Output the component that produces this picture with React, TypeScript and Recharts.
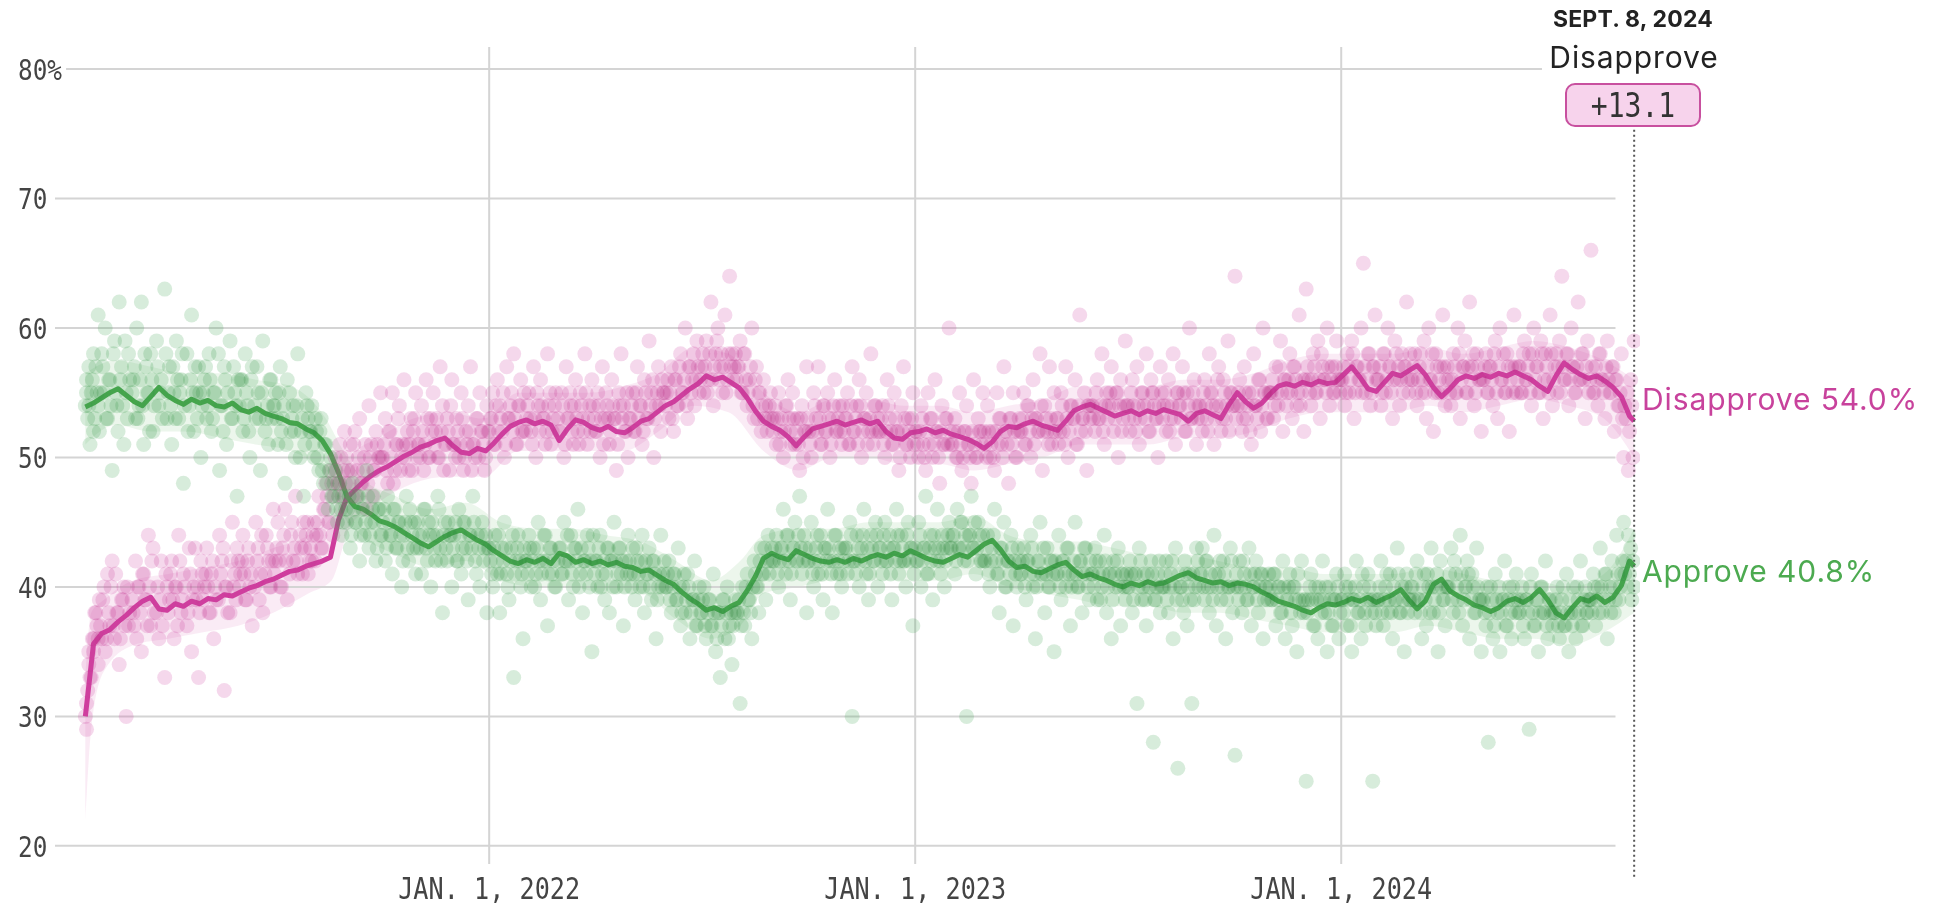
import { ComposedChart, XAxis, YAxis, Line, Area, Scatter, ReferenceLine } from 'recharts';

// days are counted from Jan 1, 2021
const trendStartDay = 19;
const trendStepDays = 7;

const approveTrend = [
  53.9, 54.2, 54.6, 55.0, 55.3, 54.8, 54.3, 54.0, 54.7, 55.4,
  54.8, 54.4, 54.1, 54.5, 54.2, 54.4, 54.0, 53.9, 54.2, 53.7,
  53.5, 53.8, 53.4, 53.2, 53.0, 52.7, 52.6, 52.2, 51.9, 51.3,
  50.3, 48.8, 47.0, 46.2, 46.0, 45.6, 45.1, 44.9, 44.6, 44.2,
  43.8, 43.4, 43.1, 43.5, 43.9, 44.2, 44.4, 44.0, 43.6, 43.3,
  42.8, 42.4, 42.0, 41.8, 42.1, 41.9, 42.2, 41.8, 42.6, 42.4,
  41.9, 42.1, 41.8, 42.0, 41.7, 41.9, 41.6, 41.5, 41.2, 41.3,
  40.9, 40.5, 40.2, 39.6, 39.1, 38.7, 38.2, 38.4, 38.1, 38.5,
  38.8, 39.7, 40.8, 42.2, 42.6, 42.3, 42.1, 42.8, 42.5, 42.2,
  42.0, 41.9, 42.1, 41.9, 42.2, 42.0, 42.3, 42.5, 42.3, 42.6,
  42.4, 42.8, 42.5, 42.2, 42.0, 41.9, 42.2, 42.5, 42.3, 42.8,
  43.3, 43.6, 42.9, 42.0, 41.5, 41.6, 41.2, 41.1, 41.4, 41.7,
  41.9, 41.3, 40.8, 41.0, 40.7, 40.5, 40.2, 40.0, 40.3, 40.1,
  40.4, 40.2, 40.3, 40.6, 40.9, 41.1, 40.7, 40.5, 40.3, 40.4,
  40.1, 40.3, 40.2, 40.0, 39.6, 39.3, 38.9, 38.7, 38.5, 38.2,
  38.0, 38.4, 38.7, 38.6, 38.8, 39.1, 38.9, 39.2, 38.8, 39.1,
  39.4, 39.8, 39.0, 38.3, 38.9, 40.2, 40.6, 39.7, 39.3, 39.0,
  38.6, 38.4, 38.1, 38.4, 38.9, 39.1, 38.8, 39.2, 39.8, 39.0,
  38.0, 37.6, 38.4, 39.1, 38.9, 39.3, 38.8, 39.2, 40.1, 42.0,
];

const disapproveTrend = [
  30.0, 35.6, 36.4, 36.7, 37.3, 37.8, 38.4, 38.9, 39.2, 38.3,
  38.2, 38.7, 38.5, 38.9, 38.7, 39.1, 39.0, 39.4, 39.3, 39.6,
  39.9, 40.1, 40.4, 40.6, 40.9, 41.2, 41.3, 41.6, 41.8, 42.0,
  42.3, 45.2, 46.9, 47.5, 48.1, 48.6, 49.0, 49.3, 49.7, 50.1,
  50.4, 50.8, 51.0, 51.3, 51.5, 50.9, 50.4, 50.3, 50.7, 50.5,
  51.1, 51.8, 52.4, 52.7, 52.9, 52.6, 52.8, 52.5, 51.3, 52.2,
  52.9, 52.7, 52.3, 52.1, 52.4, 52.0, 51.9, 52.3, 52.8, 53.0,
  53.5, 54.0, 54.3, 54.8, 55.3, 55.7, 56.3, 56.0, 56.2, 55.8,
  55.4, 54.6, 53.6, 52.8, 52.4, 52.1, 51.6, 50.9, 51.6, 52.2,
  52.4, 52.6, 52.8, 52.5, 52.7, 52.9, 52.6, 52.8, 52.0, 51.5,
  51.4, 51.9, 52.0, 52.2, 51.9, 52.1, 51.8, 51.6, 51.4, 51.1,
  50.7, 51.2, 52.0, 52.4, 52.3, 52.6, 52.8, 52.5, 52.3, 52.1,
  52.8, 53.6, 53.9, 54.1, 53.8, 53.5, 53.2, 53.4, 53.6, 53.3,
  53.6, 53.4, 53.7, 53.5, 53.3, 52.8, 53.4, 53.6, 53.3, 53.0,
  54.1, 55.0, 54.3, 53.8, 54.2, 54.9, 55.5, 55.7, 55.5, 55.8,
  55.6, 55.9, 55.7, 55.8, 56.4, 57.0, 56.2, 55.3, 55.1, 55.8,
  56.5, 56.3, 56.7, 57.1, 56.4, 55.4, 54.7, 55.3, 56.0, 56.3,
  56.1, 56.4, 56.2, 56.5, 56.3, 56.6, 56.3, 56.0, 55.5, 55.1,
  56.3, 57.3, 56.8, 56.4, 56.1, 56.3, 55.9, 55.4, 54.7, 53.2,
];

// [day, approve, disapprove] at Sept. 8, 2024
const trendEnd = [1346, 41.6, 52.8];

// individual polls: [day, approve, disapprove]
const polls2021 = [
  [19,54,30],[20,55,29],[21,53,32],[22,57,34],[23,51,33],[25,56,36],[26,58,35],[27,53,38],[29,55,37],[30,61,34],
  [31,52,39],[33,58,36],[35,55,40],[36,60,35],[38,53,41],[40,56,37],[42,49,42],[44,59,36],[46,54,38],[48,62,34],[50,57,39],[52,51,40],[54,55,30],[56,58,37],
  [60,56,38],[62,53,42],[63,60,36],[65,54,40],[67,62,35],[69,51,41],[71,57,39],[73,55,44],[75,58,37],[77,52,43],[80,59,38],[82,54,36],[84,56,42],[87,63,33],[89,53,40],
  [91,57,39],[93,51,42],[95,55,36],[97,59,40],[99,53,44],[101,56,38],[103,48,41],[106,58,37],[108,54,43],[110,61,35],[112,52,40],[114,55,39],[116,57,33],[118,50,42],
  [121,56,40],[123,53,43],[125,58,38],[127,52,41],[129,55,36],[131,60,39],[134,49,44],[136,54,42],[138,57,32],[140,51,40],[143,59,38],[145,53,45],[147,55,41],[149,47,43],
  [152,56,41],[154,52,44],[156,58,39],[158,54,42],[160,50,40],[162,57,37],[165,53,45],[167,55,43],[169,49,41],[171,59,38],[174,53,44],[176,51,42],[178,56,40],[180,54,46],
  [182,55,42],[184,51,45],[186,57,40],[188,53,43],[190,48,46],[192,56,39],[195,52,44],[197,54,42],[199,50,47],[201,58,41],[204,52,43],[206,47,45],[208,55,44],[210,53,41],
  [213,54,42],[215,50,45],[217,52,44],[219,49,47],[221,53,43],[223,48,46],[225,51,48],[227,46,45],[229,50,49],[231,47,44],[233,49,50],[235,45,48],[237,48,51],[239,44,47],[241,47,52],
  [244,46,49],[246,43,51],[248,48,47],[250,45,52],[252,47,49],[254,42,53],[256,46,48],[258,44,50],[260,49,46],[262,43,54],[264,45,51],[266,47,49],[268,42,52],[270,46,50],[272,44,55],
  [274,45,50],[276,42,53],[278,47,48],[280,44,52],[282,41,55],[284,46,49],[286,43,51],[288,45,54],[290,40,50],[292,44,56],[294,47,51],[296,42,49],[298,45,53],[300,43,52],[302,41,55],
  [305,44,51],[307,41,54],[309,46,49],[311,43,56],[313,45,50],[315,40,53],[317,44,55],[319,42,52],[321,47,50],[323,43,57],[325,38,54],[327,45,51],[329,42,53],[331,44,49],[333,40,56],
  [335,44,51],[337,42,53],[339,46,50],[341,41,55],[343,45,49],[345,43,52],[347,39,54],[349,44,57],[351,47,51],[353,42,50],[355,44,53],[357,40,55],[359,45,52],[361,43,49],[363,38,54],
];

const morePolls2021 = [
  [20,56,31],[22,54,35],[24,55,33],[26,52,36],[28,57,38],[30,54,36],
  [32,55,37],[34,57,39],[37,53,36],[39,56,38],[41,54,40],[43,58,37],[45,55,41],[47,52,38],[49,56,36],[51,54,39],[53,59,37],[55,53,40],[57,56,38],
  [59,55,39],[61,57,37],[64,53,40],[66,56,38],[68,54,41],[70,58,39],[72,55,37],[74,52,40],[76,56,42],[78,54,38],[81,57,40],[83,55,39],[85,53,37],[88,58,41],
  [90,55,38],[92,54,41],[94,57,39],[96,53,40],[98,56,37],[100,55,42],[102,58,39],[104,54,40],[107,52,38],[109,56,41],[111,55,39],[113,57,43],[115,53,40],[117,55,38],[119,54,41],
  [120,55,39],[122,57,41],[124,54,40],[126,56,38],[128,53,42],[130,55,40],[133,58,39],[135,54,41],[137,52,43],[139,56,40],[141,55,38],[144,53,42],[146,57,40],[148,54,39],[150,56,42],
  [151,54,40],[153,56,42],[155,53,41],[157,55,39],[159,52,43],[161,56,41],[164,54,40],[166,57,42],[168,53,39],[170,55,44],[173,52,41],[175,54,43],[177,56,40],[179,53,42],
  [181,54,41],[183,53,43],[185,55,42],[187,52,40],[189,54,44],[191,51,42],[194,55,41],[196,53,45],[198,52,43],[200,54,42],[203,50,44],[205,53,41],[207,51,43],[209,54,45],[211,52,42],
  [212,52,43],[214,51,44],[216,53,42],[218,50,45],[220,52,44],[222,49,43],[224,51,46],[226,48,47],[228,49,45],[230,47,48],[232,48,47],[234,46,49],[236,47,48],[238,46,50],[240,45,49],[242,46,48],
  [243,45,50],[245,47,48],[247,44,49],[249,46,51],[251,45,47],[253,47,50],[255,44,48],[257,46,49],[259,45,51],[261,47,48],[263,44,50],[265,46,47],[267,45,49],[269,43,51],[271,46,50],
  [273,44,50],[275,46,51],[277,43,49],[279,45,52],[281,44,50],[283,46,48],[285,43,51],[287,45,53],[289,44,49],[291,42,51],[293,45,50],[295,43,52],[297,46,51],[299,44,49],[301,45,53],[303,43,50],
  [304,45,51],[306,43,50],[308,44,52],[310,46,51],[312,42,53],[314,44,50],[316,45,52],[318,43,51],[320,44,53],[322,46,50],[324,42,52],[326,44,49],[328,43,51],[330,45,52],[332,44,54],
  [334,43,51],[336,45,50],[338,42,52],[340,44,51],[342,43,53],[344,45,50],[346,42,51],[348,44,52],[350,43,49],[352,45,51],[354,41,53],[356,43,50],[358,44,52],[360,42,51],[362,44,50],[364,43,52],
];

const polls2022 = [
  [366,42,53],[368,40,55],[370,44,51],[372,41,56],[374,38,54],[376,43,52],[378,45,50],[380,41,57],[382,39,53],[384,43,55],[386,33,58],[388,42,51],[390,44,54],[392,40,56],[394,36,52],
  [397,42,53],[399,44,55],[401,40,52],[403,43,57],[405,41,50],[407,45,54],[409,39,56],[411,42,53],[413,44,51],[415,37,58],[417,43,55],[419,41,52],[421,40,54],
  [425,43,52],[427,41,55],[429,45,50],[431,42,57],[433,39,53],[435,44,54],[437,40,51],[439,43,56],[441,46,52],[443,41,55],[445,38,53],[447,42,58],[449,44,51],[451,40,54],[453,35,56],
  [456,42,52],[458,40,55],[460,44,50],[462,41,57],[464,39,53],[466,43,54],[468,38,51],[470,42,56],[472,45,53],[474,40,49],[476,43,55],[478,41,58],[480,37,54],[482,42,52],[484,44,50],
  [486,41,53],[488,43,55],[490,39,52],[492,42,57],[494,40,54],[496,44,51],[498,38,56],[500,41,53],[502,43,59],[504,39,55],[506,42,50],[508,36,54],[510,40,57],[512,44,52],[514,41,55],
  [517,40,55],[519,42,53],[521,38,57],[523,41,52],[525,39,56],[527,43,54],[529,37,58],[531,40,55],[533,38,60],[535,41,53],[537,36,57],[539,39,56],[541,42,54],[543,37,59],[545,40,55],
  [547,38,57],[549,40,55],[551,36,59],[553,39,56],[555,37,62],[557,41,54],[559,35,58],[561,38,60],[563,33,57],[565,39,55],[567,36,61],[569,40,56],[571,37,64],[573,34,58],[575,38,57],
  [578,38,57],[580,31,59],[582,40,55],[584,37,58],[586,41,54],[588,39,56],[590,36,60],[592,42,53],[594,40,57],[596,38,55],[598,43,52],[600,41,56],[602,39,54],[604,44,53],[606,42,55],
  [609,42,53],[611,44,51],[613,40,55],[615,43,52],[617,46,50],[619,41,54],[621,44,56],[623,39,52],[625,43,55],[627,45,51],[629,42,53],[631,47,49],[633,41,54],[635,44,52],[637,38,57],
  [639,42,52],[641,45,50],[643,40,55],[645,43,53],[647,41,57],[649,44,51],[651,39,54],[653,43,52],[655,46,55],[657,42,50],[659,38,53],[661,44,56],[663,41,52],[665,43,54],[667,40,51],
  [670,43,53],[672,41,55],[674,45,51],[676,30,57],[678,42,52],[680,44,54],[682,40,56],[684,43,50],[686,46,53],[688,41,55],[690,39,52],[692,44,58],[694,42,51],[696,45,54],[698,40,53],
  [700,43,52],[702,41,54],[704,45,50],[706,42,56],[708,44,53],[710,39,51],[712,43,55],[714,46,52],[716,41,49],[718,44,54],[720,42,57],[722,40,51],[724,45,53],[726,43,50],[728,37,55],
];

const morePolls2022 = [
  [365,43,52],[367,41,53],[369,43,51],[371,42,54],[373,44,52],[375,41,53],[377,42,55],[379,43,51],[381,40,53],[383,42,54],[385,44,52],[387,41,53],[389,43,51],[391,42,54],[393,41,52],[395,43,55],
  [396,42,52],[398,41,54],[400,43,53],[402,42,51],[404,40,53],[406,43,55],[408,42,52],[410,41,54],[412,44,53],[414,42,52],[416,41,54],[418,43,51],[420,42,53],[422,40,55],
  [424,42,53],[426,43,52],[428,41,54],[430,42,51],[432,44,53],[434,42,55],[436,41,52],[438,43,54],[440,42,53],[442,40,51],[444,43,54],[446,42,52],[448,41,55],[450,43,53],[452,42,52],[454,44,54],
  [455,41,53],[457,42,52],[459,43,54],[461,40,53],[463,42,51],[465,41,55],[467,43,53],[469,42,52],[471,40,54],[473,42,53],[475,41,51],[477,43,54],[479,42,53],[481,40,52],[483,41,55],
  [485,42,53],[487,40,54],[489,41,52],[491,43,55],[493,41,53],[495,42,54],[497,40,52],[499,42,55],[501,41,53],[503,40,54],[505,42,56],[507,41,53],[509,39,55],[511,41,54],[513,40,56],[515,42,55],
  [516,40,54],[518,41,56],[520,39,55],[522,40,53],[524,41,56],[526,39,54],[528,40,57],[530,38,55],[532,41,56],[534,39,54],[536,40,57],[538,38,55],[540,39,58],[542,37,56],[544,39,57],
  [546,38,56],[548,39,58],[550,37,57],[552,38,55],[554,39,58],[556,37,56],[558,38,57],[560,36,59],[562,38,56],[564,37,58],[566,39,57],[568,38,55],[570,36,58],[572,38,57],[574,37,56],[576,39,58],
  [577,38,56],[579,39,57],[581,37,55],[583,38,58],[585,40,56],[587,39,55],[589,38,57],[591,40,54],[593,41,56],[595,40,53],[597,42,55],[599,41,54],[601,43,53],[603,42,52],[605,41,54],[607,43,53],
  [608,42,52],[610,43,54],[612,41,53],[614,42,51],[616,43,53],[618,42,52],[620,44,54],[622,42,53],[624,41,51],[626,43,53],[628,42,52],[630,44,51],[632,43,53],[634,42,50],[636,43,52],
  [638,42,53],[640,43,51],[642,41,52],[644,42,54],[646,44,52],[648,42,53],[650,41,51],[652,43,54],[654,42,52],[656,43,53],[658,41,51],[660,42,54],[662,44,52],[664,42,53],[666,41,52],[668,43,54],
  [669,42,52],[671,43,53],[673,42,51],[675,44,54],[677,42,52],[679,41,53],[681,43,51],[683,42,54],[685,44,52],[687,42,53],[689,43,51],[691,41,53],[693,43,52],[695,42,54],[697,44,52],
  [699,43,52],[701,42,53],[703,44,51],[705,42,52],[707,43,54],[709,41,52],[711,43,51],[713,42,53],[715,44,52],[717,42,50],[719,43,52],[721,42,53],[723,44,51],[725,42,52],[727,43,53],[729,41,51],
];

const polls2023 = [
  [731,42,52],[733,45,50],[735,40,54],[737,43,51],[739,47,49],[741,41,55],[743,44,53],[745,39,50],[747,43,56],[749,46,52],[751,42,48],[753,44,54],[755,40,51],[757,43,53],[759,45,60],
  [762,44,51],[764,41,53],[766,46,50],[768,43,55],[770,45,49],[772,42,52],[774,30,54],[776,44,51],[778,47,48],[780,43,56],[782,41,50],[784,45,53],[786,42,52],[788,44,55],
  [790,42,51],[792,44,54],[794,40,50],[796,43,52],[798,46,49],[800,41,55],[802,38,53],[804,43,51],[806,45,57],[808,40,52],[810,42,48],[812,44,53],[814,37,55],[816,41,50],[818,43,52],
  [821,41,52],[823,43,55],[825,39,51],[827,42,54],[829,44,50],[831,40,56],[833,36,53],[835,42,52],[837,45,58],[839,41,49],[841,38,54],[843,43,52],[845,40,57],[847,42,51],[849,35,55],
  [851,41,53],[853,44,51],[855,39,55],[857,42,52],[859,40,57],[861,43,50],[863,37,54],[865,41,53],[867,45,56],[869,40,51],[871,42,61],[873,38,53],[875,43,55],[877,41,49],[879,39,54],
  [882,41,54],[884,43,52],[886,39,56],[888,42,53],[890,40,58],[892,44,51],[894,38,55],[896,41,54],[898,36,57],[900,42,52],[902,40,55],[904,43,50],[906,37,56],[908,41,53],[910,39,59],
  [912,40,54],[914,42,52],[916,38,56],[918,41,53],[920,31,57],[922,43,51],[924,39,55],[926,41,54],[928,37,58],[930,40,52],[932,42,56],[934,28,55],[936,39,53],[938,41,50],[940,38,57],
  [943,40,54],[945,42,52],[947,38,56],[949,41,53],[951,36,58],[953,43,51],[955,26,55],[957,40,54],[959,39,57],[961,42,52],[963,37,55],[965,41,60],[967,31,53],[969,39,56],[971,43,51],
  [974,41,54],[976,43,52],[978,39,56],[980,42,53],[982,38,58],[984,40,55],[986,44,51],[988,37,54],[990,41,57],[992,39,52],[994,42,56],[996,36,53],[998,40,59],[1000,43,55],[1002,38,54],
  [1004,27,64],[1006,40,54],[1008,42,56],[1010,38,52],[1012,41,57],[1014,39,53],[1016,43,55],[1018,37,51],[1020,40,58],[1022,42,54],[1024,38,56],[1026,41,52],[1028,36,60],[1030,40,55],[1032,39,53],
  [1035,39,55],[1037,41,53],[1039,37,57],[1041,40,54],[1043,38,59],[1045,42,52],[1047,36,56],[1049,39,55],[1051,41,58],[1053,37,53],[1055,40,57],[1057,35,54],[1059,39,61],[1061,42,55],[1063,38,52],
  [1065,25,63],[1067,39,56],[1069,41,54],[1071,37,58],[1073,40,55],[1075,36,59],[1077,39,53],[1079,42,57],[1081,38,56],[1083,35,60],[1085,40,54],[1087,37,57],[1089,39,55],[1091,41,59],[1093,36,56],
];

const morePolls2023 = [
  [730,43,52],[732,42,51],[734,44,52],[736,42,53],[738,43,50],[740,41,52],[742,43,51],[744,42,53],[746,44,51],[748,42,52],[750,43,50],[752,41,52],[754,43,51],[756,42,53],[758,44,51],[760,43,52],
  [761,43,51],[763,44,52],[765,42,50],[767,43,52],[769,45,51],[771,43,50],[773,44,52],[775,42,51],[777,44,50],[779,43,52],[781,45,51],[783,43,50],[785,44,52],[787,42,51],
  [789,42,52],[791,43,50],[793,41,52],[795,42,51],[797,44,50],[799,42,52],[801,41,51],[803,43,53],[805,42,50],[807,40,52],[809,42,51],[811,41,53],[813,43,51],[815,42,52],[817,40,50],[819,42,53],
  [820,41,52],[822,42,53],[824,40,51],[826,42,54],[828,41,52],[830,43,53],[832,41,51],[834,40,53],[836,42,52],[838,41,54],[840,43,52],[842,41,53],[844,40,51],[846,42,53],[848,41,52],
  [850,42,52],[852,41,53],[854,40,52],[856,42,54],[858,41,51],[860,43,53],[862,41,52],[864,40,54],[866,42,53],[868,41,51],[870,40,54],[872,42,52],[874,41,53],[876,43,52],[878,40,54],[880,42,53],
  [881,41,54],[883,40,53],[885,42,55],[887,41,53],[889,39,54],[891,41,52],[893,42,54],[895,40,53],[897,41,55],[899,39,54],[901,41,53],[903,42,55],[905,40,54],[907,41,52],[909,40,54],
  [911,41,54],[913,40,53],[915,41,55],[917,39,54],[919,41,52],[921,40,54],[923,42,53],[925,40,55],[927,39,53],[929,41,54],[931,40,52],[933,41,55],[935,39,54],[937,40,53],[939,42,54],[941,40,55],
  [942,40,53],[944,41,55],[946,39,54],[948,40,52],[950,42,54],[952,40,53],[954,39,55],[956,41,54],[958,40,53],[960,38,55],[962,41,52],[964,40,54],[966,39,53],[968,41,55],[970,40,54],[972,42,53],
  [973,40,54],[975,41,53],[977,40,55],[979,42,54],[981,40,52],[983,41,55],[985,39,54],[987,41,53],[989,40,56],[991,42,54],[993,40,53],[995,41,55],[997,39,54],[999,40,52],[1001,42,55],
  [1003,40,54],[1005,41,53],[1007,39,55],[1009,40,54],[1011,42,53],[1013,40,55],[1015,39,54],[1017,41,52],[1019,40,55],[1021,41,54],[1023,39,53],[1025,40,56],[1027,41,54],[1029,39,55],[1031,40,53],[1033,41,55],
  [1034,40,55],[1036,39,56],[1038,41,54],[1040,39,55],[1042,40,57],[1044,38,55],[1046,40,56],[1048,39,54],[1050,40,56],[1052,38,55],[1054,40,57],[1056,39,56],[1058,41,55],[1060,38,54],[1062,39,56],
  [1064,39,56],[1066,38,57],[1068,40,55],[1070,39,56],[1072,37,57],[1074,39,55],[1076,40,56],[1078,38,58],[1080,39,56],[1082,40,55],[1084,38,57],[1086,39,56],[1088,37,55],[1090,39,57],[1092,40,56],[1094,38,55],
];

const polls2024 = [
  [1096,39,56],[1098,41,54],[1100,37,58],[1102,40,55],[1104,35,59],[1106,39,53],[1108,42,57],[1110,38,56],[1112,36,60],[1114,40,65],[1116,37,55],[1118,41,58],[1120,39,54],[1122,25,57],[1124,38,61],
  [1127,39,56],[1129,42,54],[1131,37,58],[1133,40,55],[1135,38,60],[1137,41,57],[1139,36,53],[1141,39,59],[1143,43,56],[1145,38,54],[1147,40,58],[1149,35,57],[1151,41,62],[1153,39,55],
  [1156,40,56],[1158,38,58],[1160,42,54],[1162,39,57],[1164,36,55],[1166,41,59],[1168,37,53],[1170,40,60],[1172,43,56],[1174,38,52],[1176,40,58],[1178,35,55],[1180,42,57],[1182,39,61],[1184,37,54],
  [1187,40,56],[1189,43,54],[1191,38,58],[1193,41,55],[1195,39,60],[1197,44,53],[1199,37,57],[1201,40,59],[1203,42,55],[1205,36,62],[1207,41,57],[1209,38,54],[1211,43,58],[1213,39,56],[1215,35,52],
  [1217,39,56],[1219,37,58],[1221,28,55],[1223,40,57],[1225,36,54],[1227,41,59],[1229,38,53],[1231,35,60],[1233,39,56],[1235,42,55],[1237,37,58],[1239,40,52],[1241,36,57],[1243,39,61],[1245,41,55],
  [1248,38,57],[1250,40,55],[1252,36,59],[1254,39,56],[1256,29,58],[1258,41,54],[1260,37,60],[1262,39,57],[1264,35,55],[1266,40,59],[1268,38,53],[1270,42,58],[1272,36,56],[1274,39,61],[1276,37,54],
  [1278,38,57],[1280,40,55],[1282,36,59],[1284,39,64],[1286,37,56],[1288,41,58],[1290,35,54],[1292,38,60],[1294,40,57],[1296,36,55],[1298,39,62],[1300,42,56],[1302,37,58],[1304,40,53],[1306,38,59],
  [1309,39,66],[1311,41,55],[1313,37,57],[1315,40,54],[1317,43,58],[1319,38,56],[1321,41,53],[1323,36,59],[1325,40,55],[1327,42,57],[1329,38,52],[1331,44,56],[1333,39,54],[1335,41,58],[1337,45,50],
  [1339,42,53],[1340,40,55],[1341,44,49],[1342,41,52],[1343,43,56],[1344,39,54],[1345,42,50],[1346,40,59],
];

const morePolls2024 = [
  [1095,39,56],[1097,38,57],[1099,40,55],[1101,39,57],[1103,37,56],[1105,39,58],[1107,40,55],[1109,38,57],[1111,39,56],[1113,41,55],[1115,38,57],[1117,39,56],[1119,40,58],[1121,38,55],[1123,39,57],[1125,37,56],
  [1126,39,56],[1128,40,57],[1130,38,55],[1132,39,58],[1134,41,56],[1136,39,57],[1138,38,55],[1140,40,56],[1142,39,58],[1144,41,57],[1146,38,56],[1148,39,55],[1150,40,57],[1152,38,56],[1154,39,58],
  [1155,40,56],[1157,39,57],[1159,41,55],[1161,39,56],[1163,38,58],[1165,40,56],[1167,39,55],[1169,41,57],[1171,38,56],[1173,40,58],[1175,39,55],[1177,41,57],[1179,38,56],[1181,40,55],[1183,39,57],[1185,40,56],
  [1186,40,57],[1188,41,55],[1190,39,56],[1192,42,57],[1194,40,55],[1196,38,58],[1198,41,56],[1200,39,57],[1202,40,55],[1204,41,57],[1206,39,56],[1208,40,58],[1210,38,55],[1212,40,57],[1214,39,56],
  [1216,39,56],[1218,38,57],[1220,40,55],[1222,38,57],[1224,39,56],[1226,37,58],[1228,39,55],[1230,40,57],[1232,38,56],[1234,39,58],[1236,37,55],[1238,39,57],[1240,38,56],[1242,40,55],[1244,38,57],[1246,39,56],
  [1247,38,57],[1249,39,55],[1251,37,58],[1253,39,56],[1255,38,57],[1257,40,55],[1259,38,58],[1261,37,56],[1263,39,57],[1265,38,55],[1267,40,58],[1269,38,56],[1271,37,57],[1273,39,55],[1275,38,58],
  [1277,38,56],[1279,39,58],[1281,37,57],[1283,38,55],[1285,40,57],[1287,37,56],[1289,38,58],[1291,39,56],[1293,37,57],[1295,38,55],[1297,40,57],[1299,38,56],[1301,37,58],[1303,39,56],[1305,38,57],[1307,39,55],
  [1308,39,56],[1310,38,57],[1312,40,55],[1314,39,56],[1316,38,58],[1318,40,56],[1320,39,55],[1322,41,57],[1324,39,56],[1326,38,55],[1328,40,57],[1330,39,56],[1332,41,54],[1334,40,55],[1336,42,53],[1338,41,54],
];

// uncertainty bands: [day, low, high]
const approveBand = [
  [19,51,56.5],[45,52.5,57.5],[75,52,57],[105,52,56.5],[135,51.5,56.5],[165,51,56],[195,50.5,55.5],[225,48.5,53],
  [240,45.5,50.5],[255,44,48.5],[285,42.5,47],[315,41.5,46],[345,42,46.5],[375,40.5,45],[405,40,44.5],[435,40,44.5],
  [465,39.5,44],[495,39.5,43.5],[525,37.5,42],[555,36,40.5],[580,37,42],[600,39.5,44],[630,40,44.5],[660,40.5,44.5],
  [690,40.5,45],[720,40.5,45],[750,40.5,45],[780,41,45.5],[810,40,44],[840,39.5,43.5],[870,39,43.5],[900,38.5,43],
  [930,38.5,42.5],[960,38,42.5],[990,38,42],[1020,37.5,41.5],[1050,37,41.5],[1080,36.5,41],[1110,36.5,41],[1140,36.5,41],
  [1170,37,41.5],[1200,36.5,41],[1230,36,40.5],[1260,36,40.5],[1290,35.5,40],[1320,36.5,41],[1346,38,44.5],
];

const disapproveBand = [
  [19,22,33],[24,29,38],[35,33.5,39],[60,35.5,40.5],[90,36,41],[120,36.5,41.5],[150,37,42],[180,38,43],
  [210,39.5,44],[230,40.5,45.5],[245,44.5,50],[270,46.5,51.5],[300,48,53],[330,48.5,53.5],[360,48.5,53],[390,50.5,55],
  [420,50.5,55],[450,50.5,55],[480,50.5,55.5],[510,52,56.5],[540,54,58.5],[570,53.5,58],[600,50.5,55],[630,49,53.5],
  [660,50,54.5],[690,50,54.5],[720,49.5,54],[750,49.5,54],[780,49,53.5],[810,49.5,54],[840,50,54.5],[870,51,55.5],
  [900,51,55.5],[930,51,55.5],[960,51.5,56],[990,51.5,56],[1020,52,56.5],[1050,53,57.5],[1080,53.5,58],[1110,53.5,58],
  [1140,53.5,58],[1170,54,58.5],[1200,53.5,58],[1230,54,58.5],[1260,54.5,59],[1290,54,58.5],[1320,53,57.5],[1346,50,56],
];

const yTicks = [20, 30, 40, 50, 60, 70, 80];
const xTicks = [365, 730, 1095];
const xTickLabels = ['JAN. 1, 2022', 'JAN. 1, 2023', 'JAN. 1, 2024'];
const asOfDay = 1346;
const asOfLabel = 'SEPT. 8, 2024';
const leaderName = 'Disapprove';
const leadMargin = '+13.1';
const disapproveLabel = 'Disapprove 54.0%';
const approveLabel = 'Approve 40.8%';

const PINK = '#cf3a9c';
const GREEN = '#45a548';
const PINK_DOT = '#d24fa9';
const GREEN_DOT = '#4aa95a';
const GRID = '#d4d4d4';
const MONO = '"DejaVu Sans Mono", monospace';
const SANS = 'Inter, "Noto Sans", sans-serif';

const trend = approveTrend
  .map((a, i) => ({ d: trendStartDay + i * trendStepDays, a, dis: disapproveTrend[i] }))
  .concat([{ d: trendEnd[0], a: trendEnd[1], dis: trendEnd[2] }]);

const polls = [
  ...polls2021, ...morePolls2021, ...polls2022, ...morePolls2022,
  ...polls2023, ...morePolls2023, ...polls2024, ...morePolls2024,
].map(([d, a, dis]) => ({ d, a, dis }));
const approveBandData = approveBand.map(([d, lo, hi]) => ({ d, r: [lo, hi] }));
const disapproveBandData = disapproveBand.map(([d, lo, hi]) => ({ d, r: [lo, hi] }));

//@ts-ignore
const YTick = ({ y, payload }) => (
  <text transform={`translate(18, ${y + 11}) scale(0.84, 1)`} fontFamily={MONO} fontSize={29} fill="#444">
    {payload.value === 80 ? '80%' : payload.value}
  </text>
);

//@ts-ignore
const XTick = ({ x, payload }) => (
  <text transform={`translate(${x}, 899) scale(0.84, 1)`} textAnchor="middle" fontFamily={MONO} fontSize={30} fill="#444">
    {xTickLabels[xTicks.indexOf(payload.value)]}
  </text>
);

//@ts-ignore
const dot = (color) => (p) => (
  <circle cx={p.cx} cy={p.cy} r={7.5} fill={color} fillOpacity={0.22} style={{ mixBlendMode: 'multiply' }} />
);

export default function App() {
  return (
    <div style={{ position: 'absolute', left: 0, top: 0, width: 1936, height: 907, background: '#fff' }}>
      <ComposedChart width={1936} height={907} margin={{ top: 47, right: 296, bottom: 0, left: 0 }}>
        <XAxis
          dataKey="d"
          type="number"
          domain={[-7, 1351]}
          allowDataOverflow
          ticks={xTicks}
          height={43}
          axisLine={false}
          tickLine={false}
          tick={XTick}
        />
        <YAxis
          type="number"
          domain={[18.6, 81.7]}
          allowDataOverflow
          ticks={yTicks}
          width={55}
          axisLine={false}
          tickLine={false}
          tick={YTick}
        />
        {yTicks.map((v) => (
          <ReferenceLine
            key={'h' + v}
            segment={[{ x: v === 80 ? 2.5 : -7, y: v }, { x: v === 80 ? 1267 : 1330, y: v }]}
            stroke={GRID}
            strokeWidth={2}
          />
        ))}
        {xTicks.map((v) => (
          <ReferenceLine key={'v' + v} x={v} stroke={GRID} strokeWidth={2} />
        ))}
        <Area data={disapproveBandData} dataKey="r" type="monotone" stroke="none" fill={PINK} fillOpacity={0.1} isAnimationActive={false} />
        <Area data={approveBandData} dataKey="r" type="monotone" stroke="none" fill={GREEN} fillOpacity={0.1} isAnimationActive={false} />
        <Scatter data={polls} dataKey="dis" shape={dot(PINK_DOT)} isAnimationActive={false} />
        <Scatter data={polls} dataKey="a" shape={dot(GREEN_DOT)} isAnimationActive={false} />
        <Line data={trend} dataKey="dis" type="linear" stroke={PINK} strokeWidth={5} dot={false} strokeLinejoin="round" isAnimationActive={false} />
        <Line data={trend} dataKey="a" type="linear" stroke={GREEN} strokeWidth={5} dot={false} strokeLinejoin="round" isAnimationActive={false} />
        <ReferenceLine
          segment={[{ x: asOfDay, y: 75.7 }, { x: asOfDay, y: 17.4 }]}
          ifOverflow="visible"
          stroke="#555"
          strokeWidth={2}
          strokeDasharray="2 3"
        />
      </ComposedChart>
      <svg width={1936} height={907} style={{ position: 'absolute', left: 0, top: 0, pointerEvents: 'none' }}>
        <text x={1633} y={27} textAnchor="middle" fontFamily={SANS} fontWeight={700} fontSize={23} letterSpacing={0.2} fill="#222">
          {asOfLabel}
        </text>
        <text x={1634} y={68} textAnchor="middle" fontFamily={SANS} fontSize={30} letterSpacing={0.9} fill="#222">
          {leaderName}
        </text>
        <rect x={1566} y={84} width={134} height={42} rx={9} fill="#f7d3ec" stroke="#c8509f" strokeWidth={2} />
        <text transform="translate(1633, 117) scale(0.85, 1)" textAnchor="middle" fontFamily={MONO} fontSize={33} fill="#333">
          {leadMargin}
        </text>
        <text x={1642} y={410} fontFamily={SANS} fontSize={30} letterSpacing={0.9} fill="#c8429c">
          {disapproveLabel}
        </text>
        <text x={1642} y={582} fontFamily={SANS} fontSize={30} letterSpacing={0.9} fill="#4caa50">
          {approveLabel}
        </text>
      </svg>
    </div>
  );
}
